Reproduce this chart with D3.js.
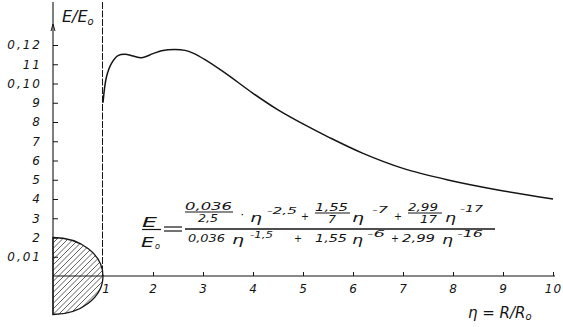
<!DOCTYPE html>
<html><head><meta charset="utf-8">
<script src="https://cdn.jsdelivr.net/npm/d3@7"></script>
<style>
body{margin:0;background:#fff}
text{font-family:"DejaVu Sans",sans-serif;font-style:italic;fill:#151515}
</style>
</head><body><svg id="c" width="563" height="327"></svg>
<script>
// ---- data ----
const eta   = [1.0, 1.07, 1.17, 1.3, 1.44, 1.6, 1.77, 2.0, 2.17, 2.44, 2.64, 2.8, 3.04, 3.44, 4.0, 4.5, 5.0, 5.5, 6.2, 7.0, 7.9, 8.9, 10.0];
const ratio = [0.090, 0.1035, 0.1105, 0.1145, 0.1152, 0.1143, 0.1134, 0.1155, 0.1170, 0.1177, 0.1172, 0.1158, 0.1124, 0.1055, 0.0949, 0.0863, 0.0790, 0.0723, 0.0637, 0.0559, 0.0499, 0.0447, 0.0400];
const yTickValues = [0.01,0.02,0.03,0.04,0.05,0.06,0.07,0.08,0.09,0.10,0.11,0.12];
const yTickLabels = ["0,01","2","3","4","5","6","7","8","9","0,10","11","0,12"];
const xTickValues = [1,2,3,4,5,6,7,8,9,10];
const xTickLabels = ["1","2","3","4","5","6","7","8","9","10"];
const sphereRx = 1, sphereRy = 0.02;

const svg = d3.select("#c");
const x = d3.scaleLinear().domain([0,10]).range([53,553]);
const y = d3.scaleLinear().domain([0,0.12]).range([276,45]);
const ink = "#151515";

const cx = x(0), cy = y(0), rx = x(sphereRx)-x(0), ry = y(0)-y(sphereRy);
const ellD = `M${cx},${cy-ry} A${rx},${ry} 0 0 1 ${cx},${cy+ry} Z`;

// sphere hatching: "/" lines, clipped analytically to the half ellipse
const hatch = svg.append("g");
const step = 5.5;
const A = 1/(rx*rx) + 1/(ry*ry);
for (let k = -ry; k < rx + ry; k += step){
  const B = -2*k/(rx*rx), C = k*k/(rx*rx) - 1;
  const disc = B*B - 4*A*C;
  if (disc <= 0) continue;
  const u1 = (-B - Math.sqrt(disc))/(2*A);
  const u2 = Math.min((-B + Math.sqrt(disc))/(2*A), k);
  if (u2 <= u1) continue;
  hatch.append("line")
    .attr("x1", cx + k - u1).attr("y1", cy + u1)
    .attr("x2", cx + k - u2).attr("y2", cy + u2)
    .attr("stroke","#444").attr("stroke-width",0.85);
}
svg.append("path").attr("d",ellD).attr("fill","none").attr("stroke",ink).attr("stroke-width",1.3);

// dashed line at eta = 1
svg.append("line").attr("x1",x(1)-0.5).attr("x2",x(1)-0.5).attr("y1",2).attr("y2",y(0))
  .attr("stroke",ink).attr("stroke-width",1).attr("stroke-dasharray","7,1.5");

// x axis
const xa = svg.append("g").attr("transform",`translate(0,${y(0)})`)
  .call(d3.axisBottom(x).tickValues(xTickValues).tickFormat((d,i)=>xTickLabels[i])
    .tickSizeInner(-4).tickSizeOuter(0).tickPadding(8));
xa.select(".domain").attr("stroke",ink).attr("stroke-width",1.1).attr("d",`M${x(0)},0H${x(10)+2}`);
xa.selectAll(".tick line").attr("stroke",ink);
xa.selectAll(".tick").filter(d=>d===1).select("line").remove();
xa.selectAll(".tick").filter(d=>d===1).select("text").attr("dx",3);
xa.selectAll(".tick text").attr("font-size",12).attr("font-family",null).attr("fill",ink).style("letter-spacing","1px");

// y axis
const ya = svg.append("g").attr("transform",`translate(${x(0)},0)`)
  .call(d3.axisLeft(y).tickValues(yTickValues).tickFormat((d,i)=>yTickLabels[i])
    .tickSizeInner(-5).tickSizeOuter(0).tickPadding(11));
ya.select(".domain").remove();
ya.selectAll(".tick line").attr("stroke",ink);
ya.selectAll(".tick text").attr("font-size",12).attr("font-family",null).attr("fill",ink).style("letter-spacing","2px");
svg.append("line").attr("x1",x(0)).attr("x2",x(0)).attr("y1",2).attr("y2",y(-sphereRy))
  .attr("stroke",ink).attr("stroke-width",1.1);
// arrow head
svg.append("path").attr("d",`M${x(0)-2},${31} L${x(0)},${24} L${x(0)+2},${31}`)
  .attr("fill","none").attr("stroke",ink).attr("stroke-width",1);

// curve
const pts = eta.map((e,i)=>[e, ratio[i]]);
svg.append("path").datum(pts)
  .attr("d", d3.line().x(d=>x(d[0])).y(d=>y(d[1])).curve(d3.curveCatmullRom.alpha(0.5)))
  .attr("fill","none").attr("stroke",ink).attr("stroke-width",1.5);

// axis titles
const yt = svg.append("text").attr("x",62).attr("y",22).attr("font-size",16);
yt.append("tspan").text("E/E");
yt.append("tspan").attr("font-size",10).attr("dy",3).text("o");

const xt = svg.append("text").attr("x",468).attr("y",318).attr("font-size",15);
xt.append("tspan").text("η = R/R");
xt.append("tspan").attr("font-size",10).attr("dy",2).text("o");

// formula annotation
const f = svg.append("g");
function t(x1, x2, base, str, size){
  f.append("text").attr("x",x1).attr("y",base).attr("font-size",size)
   .attr("textLength",x2-x1).attr("lengthAdjust","spacingAndGlyphs").text(str);
}
function bar(x1,x2,yy,w){
  f.append("line").attr("x1",x1).attr("x2",x2).attr("y1",yy).attr("y2",yy).attr("stroke",ink).attr("stroke-width",w||1);
}
// left side E/Eo
t(142,157,227,"E",14); bar(142,161,229.5,1.2);
t(141,154,247,"E",14); t(155,160,249,"o",8);
bar(164,182,227,1.2); bar(164,182,231,1.2);
// numerator
t(185,232,210,"0,036",10); bar(185,233,212);
t(198,218,221.5,"2,5",10);
t(240,244,218,"·",10);
t(250,262,222,"η",13); t(267,297,214,"-2,5",9);
t(301,309,220,"+",11);
t(315,348,211,"1,55",10); bar(315,350,213);
t(328,336,223,"7",10);
t(352,364,222,"η",13); t(372,388,213,"-7",9);
t(394,402,220,"+",11);
t(408,438,211,"2,99",10); bar(408,442,213);
t(420,437,223,"17",10);
t(445,456,222,"η",13); t(460,483,212,"-17",9);
// main bar
bar(185,495,229,1.3);
// denominator
t(188,225,242,"0,036",10);
t(232,244,244,"η",13); t(250,273,238,"-1,5",9);
t(294,302,242,"+",11);
t(315,347,242,"1,55",10);
t(352,363,244,"η",13); t(367,385,237,"-6",9);
t(391,399,242,"+",11);
t(402,435,242,"2,99",10);
t(442,453,244,"η",13); t(457,483,237,"-16",9);
</script></body></html>
